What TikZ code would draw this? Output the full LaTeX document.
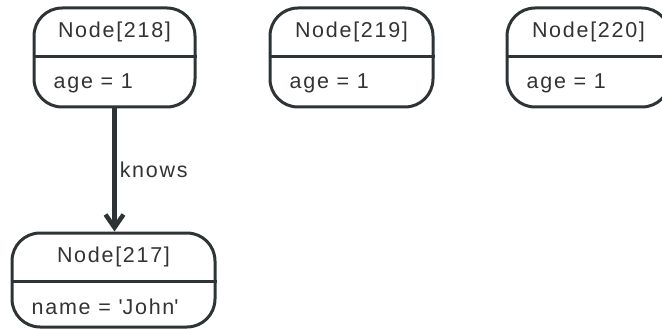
\documentclass[tikz,border=0pt]{standalone}
\usepackage{fontspec}
\setmainfont[LetterSpace=8]{Liberation Sans}
\usetikzlibrary{arrows.meta}
\definecolor{edgegray}{HTML}{2E3436}
\definecolor{textgray}{HTML}{333333}

\begin{document}
\begin{tikzpicture}[x=1pt, y=1pt,
    record/.style={draw=edgegray, line width=3pt, rounded corners=28pt, inner sep=0pt},
    txt/.style={text=textgray, inner sep=0pt, font=\fontsize{21.5}{24}\selectfont}]
  \useasboundingbox (0,0) rectangle (662,-329);
  % record boxes
  \node[record, minimum width=161, minimum height=99] (n218) at (114.5,-57.5) {};
  \node[record, minimum width=163, minimum height=99] (n219) at (351.5,-57.5) {};
  \node[record, minimum width=163, minimum height=99] (n220) at (588.5,-57.5) {};
  \node[record, minimum width=203, minimum height=94] (n217) at (113.5,-280) {};
  % dividers
  \foreach \n in {n218,n219,n220,n217}
    \draw[edgegray, line width=3pt] ([yshift=-50pt]\n.north west) -- ([yshift=-50pt]\n.north east);
  % titles
  \node[txt] (t218) at ([yshift=-25pt]n218.north) {Node[218]};
  \node[txt] (t219) at ([yshift=-25pt]n219.north) {Node[219]};
  \node[txt] (t220) at ([yshift=-25pt]n220.north) {Node[220]};
  \node[txt] (t217) at ([yshift=-25pt]n217.north) {Node[217]};
  % properties
  \node[txt, anchor=west] (p218) at ([xshift=21pt, yshift=25pt]n218.south west) {age = 1};
  \node[txt, anchor=west] (p219) at ([xshift=21pt, yshift=25pt]n219.south west) {age = 1};
  \node[txt, anchor=west] (p220) at ([xshift=21pt, yshift=25pt]n220.south west) {age = 1};
  \node[txt, anchor=west] (p217) at ([xshift=21pt, yshift=22pt]n217.south west) {name = \textquotesingle John\textquotesingle};
  % relationship
  \draw[edgegray, line width=4.5pt, -{Straight Barb[length=13pt, width=18pt]}]
    (n218.south) -- (n218.south |- n217.north)
    node[midway, right, txt, xshift=3pt] (lknows) {knows};
\end{tikzpicture}
\end{document}
